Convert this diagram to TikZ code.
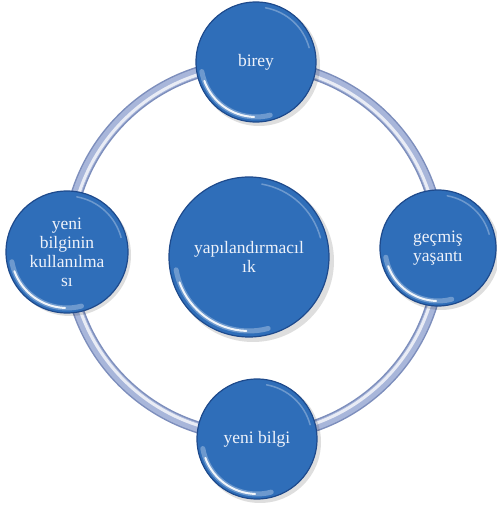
\documentclass[tikz,border=0pt]{standalone}
\usepackage{fontspec}
\setmainfont{Liberation Serif}
\newfontfamily\ballfont{Liberation Serif}
\definecolor{ballblue}{RGB}{47,110,185}
\definecolor{rimblue}{RGB}{30,74,140}
\definecolor{textwhite}{RGB}{238,242,250}
\definecolor{ringdark}{RGB}{125,142,188}
\definecolor{ringmid}{RGB}{168,182,218}
\tikzset{
  ball/.style={circle, fill=ballblue, draw=rimblue, line width=1.2pt, inner sep=0pt,
    text=textwhite, align=center, font=\ballfont\fontsize{17.5}{19}\selectfont},
  shine/.style={white, line cap=round},
  shadowball/.style={fill=black, opacity=0.13}
}
\newcommand\glossy[3]{% name, radius, inner radius for shine
  \draw[shine, line width=5pt, opacity=0.3] ([shift={(190:#3)}]#1.center) arc[start angle=190, end angle=285, radius=#3];
  \draw[shine, line width=2pt, opacity=0.9] ([shift={(200:#3)}]#1.center) arc[start angle=200, end angle=268, radius=#3];
  \draw[shine, line width=1.5pt, opacity=0.3] ([shift={(15:#3)}]#1.center) arc[start angle=15, end angle=80, radius=#3];
}
\begin{document}
\begin{tikzpicture}[x=1pt,y=1pt]
\useasboundingbox (0,0) rectangle (497,506);
% ring
\coordinate (rc) at (254,256);
\draw[ringdark, line width=12pt] (rc) circle[radius=186];
\draw[ringmid, line width=9pt] (rc) circle[radius=186];
\draw[white, opacity=0.75, line width=3pt] (rc) circle[radius=184];
% shadows
\fill[shadowball] (259,441) circle[radius=61];
\fill[shadowball] (441,255) circle[radius=59];
\fill[shadowball] (260,64) circle[radius=61];
\fill[shadowball] (70,251) circle[radius=61];
\fill[shadowball] (253,245) circle[radius=81];
% circles
\node[ball, minimum size=120pt] (birey) at (256,444) {birey};
\node[ball, minimum size=116pt] (gecmis) at (438,258) {geçmiş\\yaşantı};
\node[ball, minimum size=120pt] (yeni) at (257,67) {yeni bilgi};
\node[ball, minimum size=122pt] (kull) at (67,254) {yeni\\bilginin\\kullanılma\\sı};
\node[ball, minimum size=160pt] (yap) at (249,249) {yapılandırmacıl\\ık};
\glossy{birey}{60}{55}
\glossy{gecmis}{58}{53}
\glossy{yeni}{60}{55}
\glossy{kull}{61}{56}
\glossy{yap}{80}{74}
\end{tikzpicture}
\end{document}
